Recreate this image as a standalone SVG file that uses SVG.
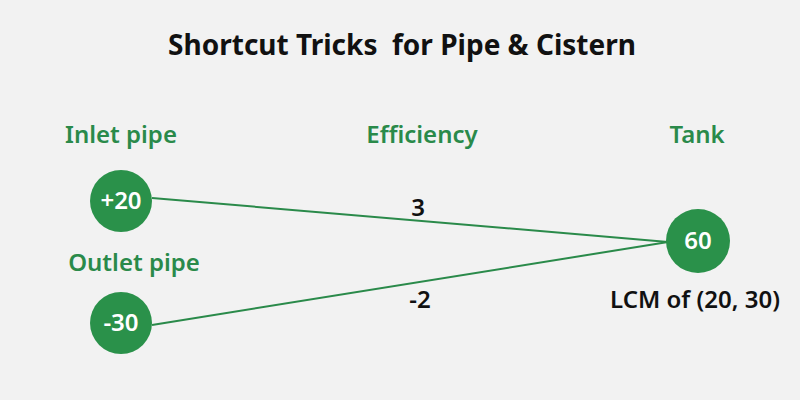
<svg xmlns="http://www.w3.org/2000/svg" width="800" height="400" viewBox="0 0 800 400">
<style>
.bg{fill:#f2f2f2}
.title{font-family:"Noto Sans","Liberation Sans",sans-serif;font-weight:700;font-size:28px;fill:#111;text-anchor:middle}
.hdr{font-family:"Noto Sans","Liberation Sans",sans-serif;font-weight:600;font-size:24px;fill:#2a8a4a;text-anchor:middle}
.node circle{fill:#2a914a}
.node text{font-family:"Noto Sans","Liberation Sans",sans-serif;font-weight:600;font-size:24px;fill:#fff;text-anchor:middle}
.lbl{font-family:"Noto Sans","Liberation Sans",sans-serif;font-weight:600;font-size:24px;fill:#111;text-anchor:middle}
.edge{stroke:#2a8a4a;stroke-width:2;fill:none}
</style>
<rect class="bg" x="0" y="0" width="800" height="400"/>
<text class="title" x="402" y="55">Shortcut Tricks &#160;for Pipe &amp; Cistern</text>
<text class="hdr" x="121" y="143">Inlet pipe</text>
<text class="hdr" x="422" y="143">Efficiency</text>
<text class="hdr" x="697" y="143">Tank</text>
<text class="hdr" x="134" y="271">Outlet pipe</text>
<g id="connectors">
<line class="edge" x1="152" y1="198" x2="668" y2="242"/>
<line class="edge" x1="152" y1="325" x2="668" y2="242"/>
<text class="lbl" x="418" y="216">3</text>
<text class="lbl" x="420" y="308">-2</text>
</g>
<g id="inlet" class="node"><circle cx="121" cy="201" r="31"/><text x="121" y="209">+20</text></g>
<g id="outlet" class="node"><circle cx="121" cy="323" r="31"/><text x="121" y="331">-30</text></g>
<g id="tank" class="node"><circle cx="698" cy="241" r="32"/><text x="698" y="249">60</text></g>
<text class="lbl" x="695" y="308">LCM of (20, 30)</text>
</svg>
